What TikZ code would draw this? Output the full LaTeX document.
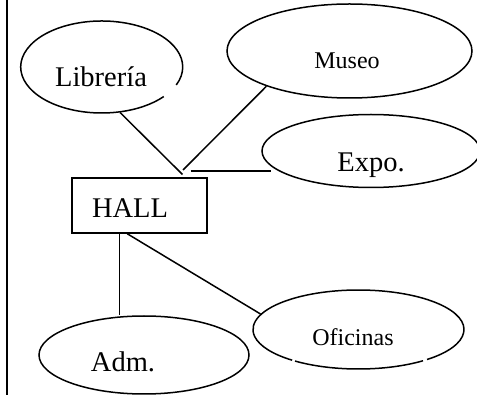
\documentclass[tikz,border=0pt]{standalone}
\usepackage{fontspec}
\setmainfont{Liberation Serif}
\usetikzlibrary{shapes.geometric}
\begin{document}
\begin{tikzpicture}[x=1pt,y=-1pt,line width=1.5pt,
  ent/.style={ellipse,inner sep=0pt,draw},
  entnd/.style={ellipse,inner sep=0pt},
  box/.style={rectangle,draw,inner sep=0pt},
  big/.style={inner sep=0pt,font=\fontsize{28.5}{30}\selectfont},
  small/.style={inner sep=0pt,font=\fontsize{24}{26}\selectfont}]
\useasboundingbox (0,0) rectangle (477,395);
% left border line
\coordinate (bt) at (7,0);
\coordinate (bb) at (7,395);
\draw[line width=2pt] (bt) -- (bb);

% ellipses
\node[entnd,minimum width=162pt,minimum height=92pt] (lib) at (101.7,67) {};
\draw ([shift={(-23:81pt and 46pt)}]lib.center) arc[start angle=-23,end angle=320,x radius=81pt,y radius=46pt];
\node[big] (libt) at (101,77) {Librería};

\node[ent,minimum width=245pt,minimum height=94pt] (mus) at (349.5,51) {};
\node[small] (must) at (347,61) {Museo};

\node[ent,minimum width=218pt,minimum height=73pt] (expo) at (371,151) {};
\node[big] (expot) at (371,165) {Expo.};

\node[box,minimum width=135pt,minimum height=55pt] (hall) at (139.5,205.5) {};
\node[big] (hallt) at (130,208) {HALL};

\node[ent,minimum width=210pt,minimum height=78pt] (adm) at (144,355) {};
\node[big] (admt) at (123,362) {Adm.};

\node[entnd,minimum width=211pt,minimum height=79pt] (ofi) at (358.5,329.5) {};
\draw ([shift={(-127:105.5pt and 39.5pt)}]ofi.center) arc[start angle=-127,end angle=-52.3,x radius=105.5pt,y radius=39.5pt];
\draw ([shift={(-49.5:105.5pt and 39.5pt)}]ofi.center) arc[start angle=-49.5,end angle=231,x radius=105.5pt,y radius=39.5pt];
\node[small] (ofit) at (353,337) {Oficinas};

% connectors
\coordinate (hub1) at (182.5,174.5);
\coordinate (hub2) at (183,170);
\coordinate (hub3) at (190.5,171);
\draw (lib.-68) -- (hub1);
\draw (mus.-157) -- (hub2);
\draw[shorten >=-10pt] (hub3) -- (hub3 -| expo.west);

\coordinate (hallA) at ([xshift=48pt]hall.south west);
\coordinate (hallB) at ([xshift=56pt]hall.south west);
\draw (hallA) -- (hallA |- adm.north);
\draw (hallB) -- (ofi.171);
\end{tikzpicture}
\end{document}
